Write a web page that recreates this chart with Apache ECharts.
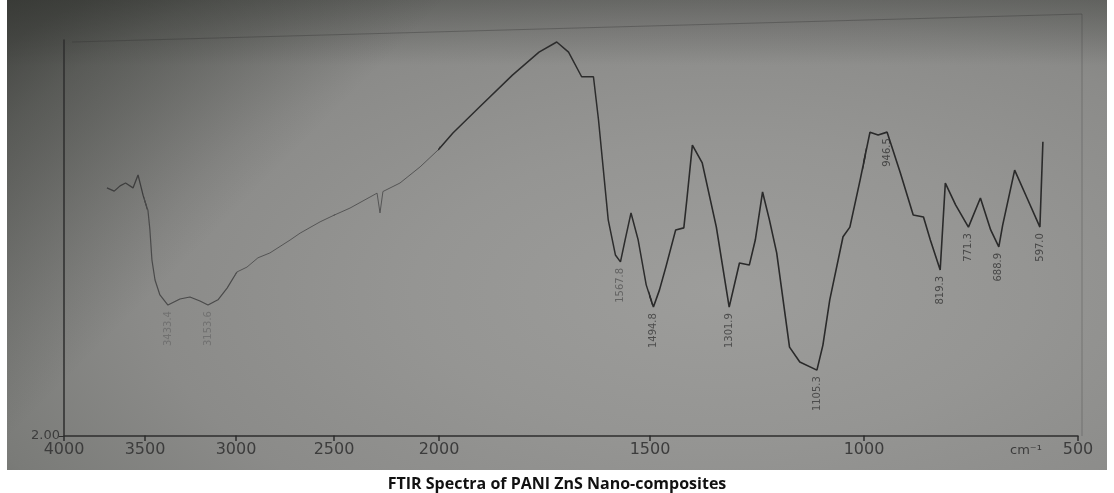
<!DOCTYPE html>
<html><head><meta charset="utf-8">
<script src="https://cdn.jsdelivr.net/npm/echarts@6/dist/echarts.min.js"></script>
<style>
html,body{margin:0;padding:0;background:#fff;width:1114px;height:493px;overflow:hidden;}
#photo{position:absolute;left:7px;top:0;width:1100px;height:470px;
background:
 linear-gradient(135deg, rgba(35,37,33,0.55) 0%, rgba(35,37,33,0.0) 28%),
 linear-gradient(180deg, rgba(40,42,38,0.35) 0%, rgba(40,42,38,0.0) 14%),
 radial-gradient(ellipse 80% 90% at 65% 62%, #9d9d9b 0%, #959593 35%, #8b8b89 65%, #7a7b78 90%, #6c6d6a 100%);}
#chart{position:absolute;left:0;top:0;width:1114px;height:493px;}
</style></head><body>
<div id="photo"></div>
<div id="chart"></div>
<script>
// ---- data ----
const tickWn = [4000, 3500, 3000, 2500, 2000, 1500, 1000, 500];
const wavenumber = [3735,3690,3654,3620,3574,3543,3512,3484,3473,3462,3445,3418,3374,3308,3253,3198,3154,3099,3049,2995,2944,2888,2827,2724,2673,2571,2424,2295,2281,2267,2186,2090,2000,1967,1904,1826,1763,1721,1693,1662,1634,1622,1599,1582,1570,1559,1545,1528,1509,1492,1478,1463,1440,1421,1414,1401,1378,1345,1315,1291,1268,1254,1237,1221,1204,1174,1150,1110,1096,1080,1049,1033,1009,986,967,946,915,885,861,845,822,810,786,756,728,704,685,676,648,617,589,582];
const transmittance = [63.4,62.6,63.9,64.6,63.4,66.6,61.6,57.9,53.0,45.6,40.6,36.9,34.4,35.9,36.4,35.4,34.4,35.7,38.6,42.6,43.8,46.1,47.3,50.5,52.2,55.0,58.4,62.1,57.2,62.5,64.6,68.6,73.0,77.0,83.4,91.3,97.0,99.5,97.0,90.9,90.9,80.2,55.5,46.8,45.1,50.5,57.2,50.5,39.4,33.9,38.1,43.8,53.0,53.5,60.4,74.0,69.6,53.7,33.9,44.8,44.3,50.5,62.4,55.5,47.3,24.0,20.3,18.3,24.5,35.7,51.3,53.7,65.4,77.2,76.5,77.2,67.1,56.7,56.2,50.5,43.1,64.6,59.2,53.7,60.9,53.0,48.8,54.2,67.8,60.4,53.7,74.8];
const peakWn = [3374, 3154, 1570, 1492, 1315, 1110, 946, 822, 756, 685, 589];
const peakLabel = ['3433.4', '3153.6', '1567.8', '1494.8', '1301.9', '1105.3', '946.5', '819.3', '771.3', '688.9', '597.0'];
const yMin = 2, yMax = 100;
const titleText = 'FTIR Spectra of PANI ZnS Nano-composites';

// ---- layout ----
const tickPx = [64, 145, 236, 334, 439, 650, 864, 1078];
const W = 1114, H = 493, plotTop = 40, plotBottom = 436;
const lineColors = ['#3e3e3e', '#4a4a4a', '#555555', '#555555', '#2c2c2c', '#2a2a2a', '#2a2a2a'];
const lineWidths = [1.3, 1.2, 1.0, 1.0, 1.5, 1.6, 1.6];
const labelColors = ['#6a6a6a', '#6a6a6a', '#6a6a6a', '#6a6a6a', '#555', '#3a3a3a', '#333'];

const grids = [], xAxes = [], yAxes = [], series = [];
const nG = tickWn.length - 1;
for (let g = 0; g < nG; g++) {
  const hi = tickWn[g], lo = tickWn[g + 1];
  grids.push({left: tickPx[g], width: tickPx[g + 1] - tickPx[g], top: plotTop, bottom: H - plotBottom, containLabel: false});
  xAxes.push({
    type: 'value', gridIndex: g, min: lo, max: hi, interval: hi - lo, inverse: true,
    axisLine: {show: true, lineStyle: {color: '#2e2e2e', width: 1.5}},
    axisTick: {show: true, inside: false, length: 5, lineStyle: {color: '#2e2e2e', width: 1.5}},
    splitLine: {show: false},
    axisLabel: {show: true, showMaxLabel: true, showMinLabel: g === nG - 1, margin: 6,
      color: '#3c3c3c', fontSize: 16, fontFamily: 'DejaVu Sans', formatter: v => String(v)}
  });
  yAxes.push({
    type: 'value', gridIndex: g, min: yMin, max: yMax, interval: yMax - yMin,
    show: g === 0,
    axisLine: {show: g === 0, lineStyle: {color: '#2e2e2e', width: 1.5}},
    axisTick: {show: g === 0, length: 5, lineStyle: {color: '#2e2e2e'}},
    splitLine: {show: false},
    axisLabel: {show: g === 0, showMaxLabel: false, showMinLabel: true, color: '#3c3c3c',
      fontSize: 13, fontFamily: 'DejaVu Sans', margin: 4, formatter: v => v.toFixed(2)}
  });
  const pts = [];
  for (let i = 0; i < wavenumber.length; i++) {
    const w = wavenumber[i];
    const inside = w <= hi && w >= lo;
    const prevIn = i + 1 < wavenumber.length && wavenumber[i + 1] <= hi && wavenumber[i + 1] >= lo;
    const nextIn = i - 1 >= 0 && wavenumber[i - 1] <= hi && wavenumber[i - 1] >= lo;
    if (inside || prevIn || nextIn) pts.push([w, transmittance[i]]);
  }
  series.push({type: 'line', xAxisIndex: g, yAxisIndex: g, data: pts, showSymbol: false, clip: true,
    silent: true, animation: false, lineStyle: {color: lineColors[g], width: lineWidths[g]}});
  const pk = [];
  peakWn.forEach((w, k) => {
    if (w <= hi && w > lo) {
      let best = 0;
      wavenumber.forEach((x, i) => { if (Math.abs(x - w) < Math.abs(wavenumber[best] - w)) best = i; });
      pk.push({value: [w, transmittance[best]], name: peakLabel[k]});
    }
  });
  if (pk.length) series.push({type: 'scatter', xAxisIndex: g, yAxisIndex: g, data: pk, symbolSize: 0,
    silent: true, animation: false,
    label: {show: true, position: 'bottom', distance: 6, rotate: 90, align: 'right', verticalAlign: 'middle',
      formatter: p => p.name, color: labelColors[g], fontSize: 10, fontFamily: 'DejaVu Sans'}});
}

const chart = echarts.init(document.getElementById('chart'), null, {renderer: 'canvas'});
chart.setOption({
  backgroundColor: 'transparent',
  animation: false,
  title: {text: titleText, left: 'center', top: 471,
    textStyle: {fontSize: 16, fontWeight: 'bold', color: '#111', fontFamily: 'Open Sans'}},
  grid: grids, xAxis: xAxes, yAxis: yAxes, series: series,
  graphic: [
    {type: 'text', left: 1010, top: 444, style: {text: 'cm⁻¹', fontSize: 13, fill: '#3c3c3c', fontFamily: 'DejaVu Sans'}},
    {type: 'line', shape: {x1: 72, y1: 42, x2: 1082, y2: 14}, style: {stroke: 'rgba(50,50,50,0.35)', lineWidth: 1}},
    {type: 'line', shape: {x1: 1082, y1: 14, x2: 1082, y2: 436}, style: {stroke: 'rgba(50,50,50,0.3)', lineWidth: 1}}
  ]
});
</script>
</body></html>
